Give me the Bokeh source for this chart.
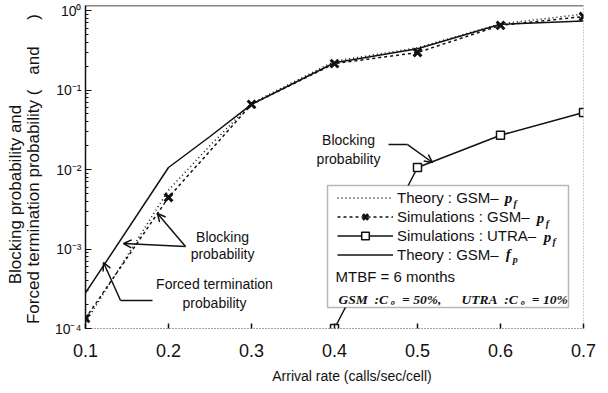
from bokeh.plotting import figure
from bokeh.layouts import row
from bokeh.models import (Range1d, Span, BoxAnnotation, Label, Arrow, OpenHead,
                          Legend, LegendItem, CustomJSTickFormatter, FixedTicker)
from bokeh.embed import file_html
from bokeh.resources import INLINE

# ---- data ----
rates = [0.1, 0.2, 0.3, 0.4, 0.5, 0.6, 0.7]
theory_rates = [0.1, 0.2, 0.25, 0.3, 0.4, 0.5, 0.6, 0.7]
theory_gsm_pf = [1.2e-4, 5.5e-3, 0.020, 0.068, 0.23, 0.34, 0.68, 0.90]
theory_gsm_fp = [2.8e-4, 0.0106, 0.026, 0.066, 0.22, 0.33, 0.67, 0.74]
sim_gsm_pf = [1.34e-4, 4.45e-3, 0.066, 0.215, 0.296, 0.65, 0.84]
utra_rates = [0.4, 0.5, 0.6, 0.7]
sim_utra_pf = [1.0e-4, 0.0106, 0.027, 0.052]
x_ticks = [0.1, 0.2, 0.3, 0.4, 0.5, 0.6, 0.7]

NB = "\u00a0"
legend_labels = ["Theory : GSM\u2013", "Simulations : GSM\u2013",
                 "Simulations : UTRA\u2013", "Theory : GSM\u2013"]
y_title_parts = [(15, 230, "Blocking probability and"),
                 (33, 245, "Forced termination probability ("),
                 (33, 67, "and"),
                 (33, 14, ")")]
x_title = "Arrival rate (calls/sec/cell)"

FONT = "Liberation Sans"
SERIF = "Liberation Serif"
INK = "#111111"

# ---- narrow strip holding the two-line y title ----
side = figure(width=45, height=393, x_range=Range1d(0, 45), y_range=Range1d(393, 0),
              output_backend="svg", toolbar_location=None, min_border=0,
              x_axis_location=None, y_axis_location=None)
side.grid.visible = False
side.outline_line_color = None
side.background_fill_color = "white"
side.border_fill_color = "white"
for xc, yc, t in y_title_parts:
    side.add_layout(Label(x=xc, y=yc, text=t, angle=90, angle_units="deg",
                          text_align="center", text_baseline="middle", text_font=FONT,
                          text_font_size="17px", text_color=INK))

# ---- main plot ----
p = figure(width=563, height=393, x_range=Range1d(0.1, 0.7), y_range=Range1d(1e-4, 1.156),
           y_axis_type="log", output_backend="svg", toolbar_location=None,
           min_border_left=40, min_border_right=25, min_border_top=5, min_border_bottom=65)
p.grid.visible = False
p.outline_line_color = None
p.background_fill_color = "white"
p.border_fill_color = "white"

# x axis
p.xaxis.ticker = FixedTicker(ticks=x_ticks)
p.xaxis.axis_line_dash = "1 2"
p.xaxis.axis_line_color = "#444444"
p.xaxis.major_tick_in = 5
p.xaxis.major_tick_out = 0
p.xaxis.major_tick_line_width = 1.5
p.xaxis.major_tick_line_color = INK
p.xaxis.minor_tick_line_color = None
p.xaxis.major_label_text_font = FONT
p.xaxis.major_label_text_font_size = "18px"
p.xaxis.major_label_text_color = INK
p.xaxis.major_label_standoff = 15
p.xaxis.axis_label = NB * 9 + x_title
p.xaxis.axis_label_text_font = FONT
p.xaxis.axis_label_text_font_size = "14px"
p.xaxis.axis_label_text_font_style = "normal"
p.xaxis.axis_label_text_color = INK
p.xaxis.axis_label_standoff = 8

# y axis
p.yaxis.formatter = CustomJSTickFormatter(code="""
const e = Math.round(Math.log10(tick));
const sup = {'0':'\u2070','1':'\u00b9','2':'\u00b2','3':'\u00b3','4':'\u2074','-':'\u207b'};
return '10' + String(e).split('').map(c => sup[c]).join('');
""")
p.yaxis.axis_line_width = 1.5
p.yaxis.axis_line_color = INK
p.yaxis.major_tick_in = 6
p.yaxis.major_tick_out = 0
p.yaxis.minor_tick_in = 3
p.yaxis.minor_tick_out = 0
p.yaxis.major_tick_line_color = INK
p.yaxis.minor_tick_line_color = INK
p.yaxis.major_label_text_font = FONT
p.yaxis.major_label_text_font_size = "14px"
p.yaxis.major_label_text_color = INK
p.yaxis.major_label_standoff = 4

# frame borders (top solid, right dotted)
p.add_layout(Span(location=1.156, dimension="width", line_color=INK, line_width=1.5))
p.add_layout(Span(location=0.7, dimension="height", line_color="#444444", line_width=1, line_dash="1 2"))

# series
r_tpf = p.line(theory_rates, theory_gsm_pf, line_color=INK, line_width=1.5, line_dash="1 3")
r_spf_l = p.line(rates, sim_gsm_pf, line_color=INK, line_width=1.5, line_dash="3 3")
r_spf_m = p.scatter(rates, sim_gsm_pf, marker="x", size=11, line_color=INK, line_width=3)
r_utra_l = p.line(utra_rates, sim_utra_pf, line_color=INK, line_width=1.5)
r_utra_m = p.scatter(utra_rates, sim_utra_pf, marker="square", size=8, fill_color="white",
                     line_color=INK, line_width=1.5)
r_fp = p.line(theory_rates, theory_gsm_fp, line_color=INK, line_width=1.5)

# legend box
p.add_layout(BoxAnnotation(left=0.3916, right=0.6819, top=6.29e-3, bottom=1.84e-4,
                           fill_color="white", fill_alpha=1, line_color=INK, line_width=1.5))

legend = Legend(items=[LegendItem(label=legend_labels[0], renderers=[r_tpf]),
                       LegendItem(label=legend_labels[1], renderers=[r_spf_l, r_spf_m]),
                       LegendItem(label=legend_labels[2], renderers=[r_utra_l, r_utra_m]),
                       LegendItem(label=legend_labels[3], renderers=[r_fp])],
                location=(252, 64), border_line_color=None, background_fill_alpha=0,
                padding=0, margin=0, spacing=0, label_height=19, glyph_height=19,
                glyph_width=56, label_standoff=4, label_text_font=FONT,
                label_text_font_size="15px", label_text_color=INK)
p.add_layout(legend)

def lab(x, y, text, size="15px", font=FONT, style="normal", align="left", baseline="middle"):
    p.add_layout(Label(x=x, y=y, text=text, text_font=font, text_font_size=size,
                       text_font_style=style, text_align=align, text_baseline=baseline,
                       text_color=INK))

# p_f / f_p symbols in the legend
lab(0.6050, 4.32e-3, "p", "15px", SERIF, "bold italic")
lab(0.6158, 3.74e-3, "f", "10px", SERIF, "bold italic")
lab(0.6436, 2.42e-3, "p", "15px", SERIF, "bold italic")
lab(0.6544, 2.09e-3, "f", "10px", SERIF, "bold italic")
lab(0.6520, 1.436e-3, "p", "15px", SERIF, "bold italic")
lab(0.6628, 1.24e-3, "f", "10px", SERIF, "bold italic")
lab(0.6062, 8.53e-4, "f", "15px", SERIF, "bold italic")
lab(0.6148, 7.38e-4, "p", "10px", SERIF, "bold italic")
lab(0.4012, 4.51e-4, "MTBF = 6 months", "15px")
lab(0.4048, 2.32e-4,
    "GSM" + NB * 2 + ":C" + NB + "\u2092" + NB * 2 + "=" + NB + "50%," + NB * 6 + "UTRA" + NB * 2
    + ":C" + NB + "\u2092" + NB * 2 + "=" + NB + "10%", "13.5px", SERIF, "bold italic")

# annotations
lab(0.4169, 0.02317, "Blocking", "14px", align="center")
lab(0.4169, 0.01375, "probability", "14px", align="center")
lab(0.2651, 1.436e-3, "Blocking", "14px", align="center")
lab(0.2651, 8.53e-4, "probability", "14px", align="center")
lab(0.2554, 3.68e-4, "Forced termination", "14px", align="center")
lab(0.2554, 2.12e-4, "probability", "14px", align="center")

def arrow(x0, y0, x1, y1, head=True):
    p.add_layout(Arrow(x_start=x0, y_start=y0, x_end=x1, y_end=y1, line_color=INK,
                       line_width=1.5,
                       end=OpenHead(size=8, line_color=INK, line_width=1.5) if head else None))

arrow(0.4651, 0.0206, 0.4880, 0.0206, head=False)
arrow(0.4880, 0.0206, 0.5181, 0.01225)
arrow(0.2205, 1.075e-3, 0.1867, 2.80e-3)
arrow(0.2205, 1.075e-3, 0.1458, 1.173e-3)
arrow(0.1807, 2.25e-4, 0.1422, 2.25e-4, head=False)
arrow(0.1422, 2.25e-4, 0.1217, 6.76e-4)

layout = row(side, p)
open("out.html", "w").write(file_html(layout, INLINE))
